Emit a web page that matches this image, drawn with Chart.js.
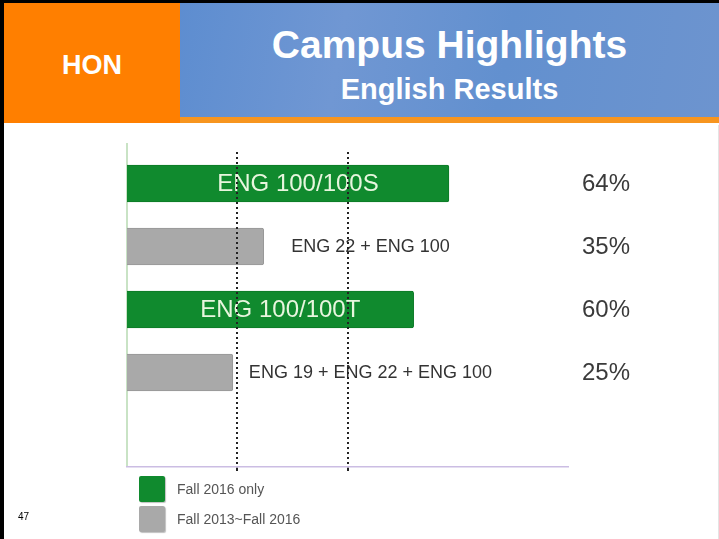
<!DOCTYPE html>
<html>
<head>
<meta charset="utf-8">
<script src="https://cdn.jsdelivr.net/npm/chart.js@4"></script>
<style>
  html, body { margin: 0; padding: 0; background: #fff; }
  #slide { position: relative; width: 719px; height: 539px; overflow: hidden; background: #fff; font-family: "Liberation Sans", Arial, sans-serif; }
  .abs { position: absolute; }
  #hon { left: 4px; top: 3px; width: 176px; height: 120px; background: #ff7f00; }
  #honText { left: 0; width: 176px; top: 49px; text-align: center; color: #fff; font-weight: bold; font-size: 27px; line-height: 27px; }
  #banner { left: 180px; top: 3px; width: 539px; height: 114px;
    background: linear-gradient(100deg, #5d8dd0 0%, #7097d3 30%, #6290cf 60%, #6d94cf 100%); }
  #stripe { left: 180px; top: 117px; width: 539px; height: 6px; background: #f7951f; }
  #title1 { left: 0; width: 539px; top: 22px; text-align: center; color: #fff; font-weight: bold; font-size: 39px; line-height: 39px; }
  #title2 { left: 0; width: 539px; top: 72px; text-align: center; color: #fff; font-weight: bold; font-size: 29px; line-height: 29px; }
  #chartBox { left: 0; top: 125px; width: 719px; height: 414px; }
  #legend { left: 139px; top: 476px; }
  .item { display: flex; align-items: center; height: 26px; margin-bottom: 4px; }
  .swatch { width: 26px; height: 26px; border-radius: 2px; margin-right: 12px; box-shadow: 1px 1px 1px rgba(0,0,0,0.25); }
  .item span { font-size: 14px; color: #555; }
  #pageNo { left: 18px; top: 511px; font-size: 10px; color: #000; }
</style>
</head>
<body>
<div id="slide">
  <div class="abs" id="hon"><div class="abs" id="honText">HON</div></div>
  <div class="abs" id="banner">
    <div class="abs" id="title1">Campus Highlights</div>
    <div class="abs" id="title2">English Results</div>
  </div>
  <div class="abs" id="stripe"></div>
  <div class="abs" style="left:0;top:0;width:4px;height:539px;background:#000"></div>
  <div class="abs" style="left:0;top:0;width:719px;height:3px;background:#000"></div>
  <div class="abs" style="left:718px;top:125px;width:1px;height:414px;background:#e4e4e4"></div>
  <div class="abs" id="chartBox"><canvas id="chart"></canvas></div>
  <div class="abs" id="legend"></div>
  <div class="abs" id="pageNo">47</div>
</div>
<script>
// データ
const courses = ['ENG 100/100S', 'ENG 22 + ENG 100', 'ENG 100/100T', 'ENG 19 + ENG 22 + ENG 100', ''];
const fall2016Bars = [73, null, 65, null, null];
const fall2013Bars = [null, 31, null, 24, null];
const percentLabels = ['64%', '35%', '60%', '25%'];
const gridTicks = [25, 50];
const seriesNames = ['Fall 2016 only', 'Fall 2013~Fall 2016'];
const seriesColors = ['#108a2e', '#a9a9a9'];
const seriesBorders = ['#0c7a27', '#979797'];

// バーのラベルとパーセント
const barLabels = {
    id: 'barLabels',
    afterDatasetsDraw(chart) {
        const ctx = chart.ctx;
        const xScale = chart.scales.x;
        const area = chart.chartArea;
        ctx.save();
        ctx.textBaseline = 'middle';
        chart.data.datasets.forEach((ds, d) => {
            const meta = chart.getDatasetMeta(d);
            meta.data.forEach((bar, i) => {
                if (ds.data[i] == null) return;
                const mid = bar.y + 1;
                if (d === 0) {
                    ctx.font = '24px "Liberation Sans", Arial, sans-serif';
                    ctx.fillStyle = '#e8f6de';
                    ctx.textAlign = 'center';
                    ctx.fillText(courses[i], (bar.base + bar.x) / 2 + 10, mid);
                } else {
                    ctx.font = '18px "Liberation Sans", Arial, sans-serif';
                    ctx.fillStyle = '#333';
                    ctx.textAlign = 'center';
                    ctx.fillText(courses[i], xScale.getPixelForValue(55.2), mid);
                }
                ctx.font = '24px "Liberation Sans", Arial, sans-serif';
                ctx.fillStyle = '#3a3a3a';
                ctx.textAlign = 'left';
                ctx.fillText(percentLabels[i], area.right + 14, mid);
            });
        });
        ctx.restore();
    },
    beforeDatasetsDraw(chart) {
        // 縦軸の線（少し上まで伸ばす）
        const ctx = chart.ctx;
        const area = chart.chartArea;
        ctx.save();
        ctx.strokeStyle = '#b7dab2';
        ctx.lineWidth = 1.5;
        ctx.beginPath();
        ctx.moveTo(area.left, area.top - 9);
        ctx.lineTo(area.left, area.bottom);
        ctx.stroke();
        ctx.restore();
    }
};

const ctx = document.getElementById('chart').getContext('2d');
new Chart(ctx, {
    type: 'bar',
    data: {
        labels: courses,
        datasets: [0, 1].map(s => ({
            label: seriesNames[s],
            data: s === 0 ? fall2016Bars : fall2013Bars,
            backgroundColor: seriesColors[s],
            borderColor: seriesBorders[s],
            borderWidth: 1,
            borderRadius: 2,
            borderSkipped: 'start',
            barThickness: 37,
            grouped: false,
            skipNull: true
        }))
    },
    options: {
        indexAxis: 'y',
        responsive: true,
        maintainAspectRatio: false,
        animation: false,
        layout: { padding: { left: 127, right: 151, top: 27, bottom: 68 } },
        plugins: { legend: { display: false }, tooltip: { enabled: false } },
        scales: {
            x: {
                min: 0,
                max: 100,
                afterBuildTicks: axis => { axis.ticks = gridTicks.map(v => ({ value: v })); },
                ticks: { display: false, padding: 0 },
                // 点線はバーの上に描く
                grid: { z: 1, color: '#222', lineWidth: 2, drawTicks: true, tickLength: 4 },
                // v4: border.dash は目盛り線に効く。枠線はグリッドの後に描く
                border: { z: 2, display: true, color: '#cbbde3', width: 1.5, dash: [2, 3] }
            },
            y: {
                ticks: { display: false },
                grid: { display: false, drawTicks: false },
                border: { display: false }
            }
        }
    },
    plugins: [barLabels]
});

// 凡例
const legend = document.getElementById('legend');
seriesNames.forEach((name, s) => {
    const item = document.createElement('div');
    item.className = 'item';
    item.innerHTML = `<div class="swatch" style="background:${seriesColors[s]}"></div><span>${name}</span>`;
    legend.appendChild(item);
});
</script>
</body>
</html>
